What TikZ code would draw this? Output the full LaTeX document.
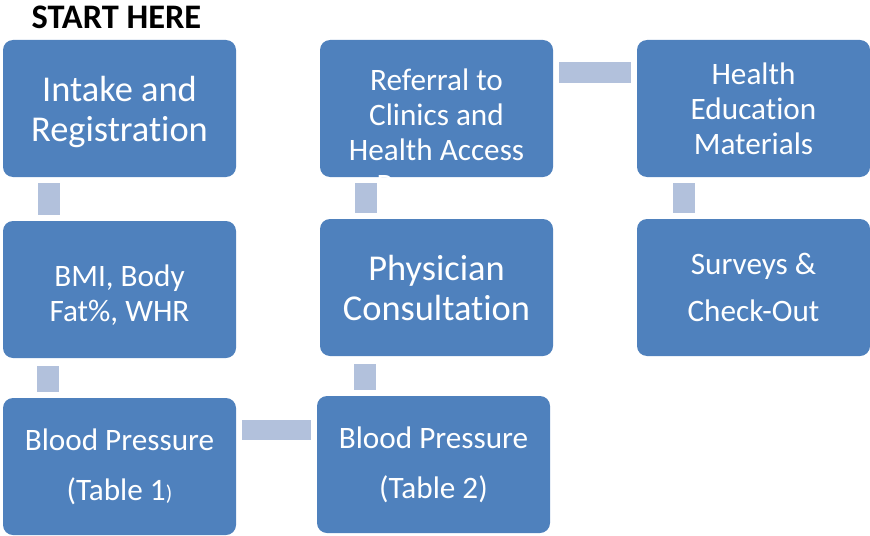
\documentclass[tikz,border=0pt]{standalone}
\usepackage{fontspec}
\setmainfont{Carlito}[Ligatures=NoCommon]
\usepackage{xcolor}
\usepackage{tikz}
\usetikzlibrary{positioning,calc}
\definecolor{boxblue}{HTML}{4F81BD}
\definecolor{barblue}{HTML}{B2C1DC}
\tikzset{
  stepbox/.style={fill=boxblue,rounded corners=7.5pt,minimum width=174.75pt,
    minimum height=102.75pt,inner sep=0pt,text=white,align=center},
  bigtext/.style={font={\fontsize{27.3pt}{30pt}\selectfont}},
  smalltext/.style={font={\fontsize{23.4pt}{26.25pt}\selectfont}},
  vbar/.style={draw=barblue,line width=16.5pt,shorten >=4.5pt,shorten <=4.5pt},
  hbar/.style={draw=barblue,line width=15pt,shorten >=4.5pt,shorten <=4.5pt}
}

\begin{document}
\begin{tikzpicture}[x=0.75pt,y=-0.75pt]
\useasboundingbox (0,0) rectangle (870,535);

\node[font={\fontsize{25.8pt}{28pt}\selectfont\bfseries},inner sep=0pt] (start) at (116.5,17) {START HERE};

% left column
\node[stepbox,bigtext] (intake) at (119.5,108.5) {\rule{0pt}{24pt}Intake and\\Registration};
\node[stepbox,smalltext] (bmi) at (119.5,289.5) {\rule{0pt}{24pt}BMI, Body\\Fat\%, WHR};
\node[stepbox,font={\fontsize{23.4pt}{37.5pt}\selectfont}] (bp1) at (119.5,466.5)
  {Blood Pressure\\(Table 1{\fontsize{16pt}{18pt}\selectfont)}};

% middle column
\node[stepbox,font={\fontsize{23.4pt}{37.5pt}\selectfont}] (bp2) at (433.5,464.5) {Blood Pressure\\(Table 2)};
\node[stepbox,bigtext] (physician) at (436.5,287.5) {Physician\\Consultation};
\node[stepbox] (referral) at (436.5,108.5) {};
\begin{scope}
  \clip[rounded corners=7.5pt] (referral.south west) rectangle (referral.north east);
  \node[smalltext,text=white,align=center] (referraltext) at ([yshift=-19.5pt]referral.center)
    {Referral to\\Clinics and\\Health Access\\Programs};
\end{scope}

% right column
\node[stepbox,smalltext] (health) at (753.5,108.5) {Health\\Education\\Materials};
\node[stepbox,font={\fontsize{23.4pt}{35.25pt}\selectfont}] (surveys) at (753.5,287.5) {Surveys \&\\Check-Out};

% connecting bars
\draw[vbar] ([xshift=-52.9pt]intake.south) -- ([xshift=-52.9pt]intake.south |- bmi.north);
\draw[vbar,shorten <=6pt] ([xshift=-53.6pt]bmi.south) -- ([xshift=-53.6pt]bmi.south |- bp1.north);
\draw[hbar] ([yshift=27.75pt]bp1.east) -- ([yshift=27.75pt]bp1.east -| bp2.west);
\draw[vbar,shorten >=6pt] ([xshift=-54pt]physician.south |- bp2.north) -- ([xshift=-54pt]physician.south);
\draw[vbar] ([xshift=-52.9pt]physician.north) -- ([xshift=-52.9pt]physician.north |- referral.south);
\draw[hbar,line width=15.75pt] ([yshift=27pt]referral.east) -- ([yshift=27pt]referral.east -| health.west);
\draw[vbar] ([xshift=-52.1pt]health.south) -- ([xshift=-52.1pt]health.south |- surveys.north);
\end{tikzpicture}
\end{document}
